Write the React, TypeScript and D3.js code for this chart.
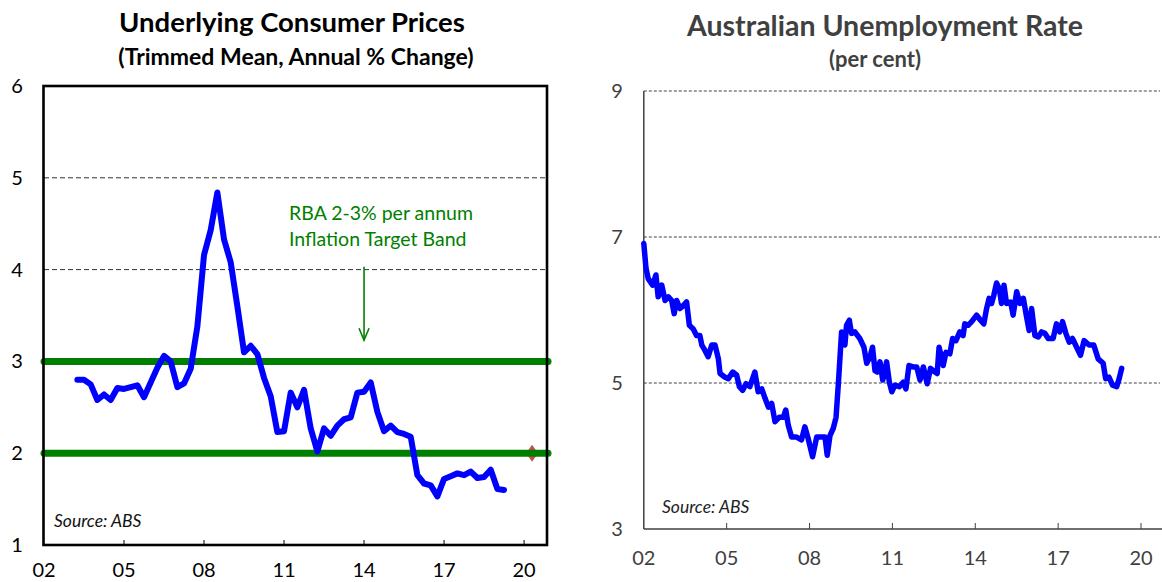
import React from "react";
import * as d3 from "d3";

// ---------- Data ----------
const cpiStart = 2003.25; // first quarter shown (quarterly series)
const cpiValues = [
  2.8, 2.8, 2.75, 2.58, 2.64, 2.58, 2.71, 2.7, 2.72, 2.74, 2.61, 2.77, 2.93,
  3.06, 3.0, 2.72, 2.76, 2.92, 3.38, 4.16, 4.43, 4.84, 4.33, 4.08, 3.6, 3.1,
  3.17, 3.08, 2.82, 2.62, 2.23, 2.24, 2.66, 2.5, 2.69, 2.27, 2.02, 2.27, 2.19,
  2.3, 2.37, 2.39, 2.66, 2.67, 2.77, 2.45, 2.24, 2.3, 2.23, 2.21, 2.18, 1.76,
  1.67, 1.65, 1.53, 1.72, 1.75, 1.78, 1.76, 1.8, 1.73, 1.74, 1.82, 1.61, 1.6,
];
const cpiDates = cpiValues.map((_, i) => cpiStart + i / 4);

const targetBand = [2, 3];
const forecastPoint = { date: 2020.3, value: 2.0 };

const unempDates = [
  2002.0, 2002.08, 2002.16, 2002.32, 2002.44, 2002.52, 2002.65, 2002.77, 2002.89,
  2003.01, 2003.1, 2003.19, 2003.31, 2003.43, 2003.55, 2003.65, 2003.79, 2003.91,
  2004.03, 2004.1, 2004.21, 2004.33, 2004.46, 2004.58, 2004.7, 2004.76, 2004.94,
  2005.06, 2005.22, 2005.36, 2005.46, 2005.58, 2005.7, 2005.84, 2006.02, 2006.14,
  2006.27, 2006.39, 2006.51, 2006.63, 2006.75, 2006.9, 2007.05, 2007.14, 2007.23,
  2007.35, 2007.53, 2007.71, 2007.83, 2007.95, 2008.11, 2008.26, 2008.44, 2008.56,
  2008.64, 2008.74, 2008.86, 2008.96, 2009.04, 2009.16, 2009.28, 2009.34, 2009.44,
  2009.52, 2009.64, 2009.82, 2009.97, 2010.07, 2010.19, 2010.28, 2010.37, 2010.45,
  2010.55, 2010.65, 2010.79, 2010.89, 2010.98, 2011.09, 2011.25, 2011.39, 2011.49,
  2011.6, 2011.75, 2011.88, 2012.0, 2012.12, 2012.26, 2012.38, 2012.54, 2012.62,
  2012.69, 2012.84, 2012.94, 2013.08, 2013.18, 2013.3, 2013.44, 2013.56, 2013.62,
  2013.74, 2013.87, 2014.05, 2014.19, 2014.31, 2014.41, 2014.5, 2014.59, 2014.67,
  2014.77, 2014.87, 2014.95, 2015.04, 2015.13, 2015.28, 2015.37, 2015.5, 2015.62,
  2015.74, 2015.86, 2015.95, 2016.04, 2016.16, 2016.28, 2016.4, 2016.52, 2016.64,
  2016.82, 2016.94, 2017.06, 2017.16, 2017.28, 2017.4, 2017.52, 2017.67, 2017.81,
  2017.94, 2018.12, 2018.29, 2018.45, 2018.63, 2018.72, 2018.84, 2018.97, 2019.12,
  2019.21, 2019.3,
];
const unempValues = [
  6.91, 6.57, 6.43, 6.34, 6.48, 6.18, 6.34, 6.13, 6.18,
  6.13, 5.95, 6.13, 6.02, 6.06, 6.11, 5.79, 5.74, 5.65,
  5.65, 5.52, 5.45, 5.36, 5.52, 5.52, 5.33, 5.13, 5.08,
  5.06, 5.15, 5.11, 4.95, 4.9, 4.99, 4.95, 5.15, 4.88,
  4.92, 4.79, 4.67, 4.72, 4.47, 4.53, 4.53, 4.63, 4.42,
  4.26, 4.26, 4.22, 4.4, 4.24, 3.99, 4.26, 4.26, 4.26,
  4.01, 4.28, 4.38, 4.53, 4.97, 5.7, 5.52, 5.79, 5.86,
  5.68, 5.7, 5.61, 5.49, 5.27, 5.36, 5.49, 5.17, 5.15,
  5.29, 5.04, 5.29, 5.01, 4.88, 4.97, 4.95, 5.01, 4.92,
  5.24, 5.22, 5.22, 5.04, 5.22, 4.99, 5.2, 5.15, 5.13,
  5.49, 5.24, 5.42, 5.4, 5.61, 5.58, 5.7, 5.65, 5.81,
  5.79, 5.84, 5.93, 5.86, 5.81, 6.02, 6.16, 6.09, 6.2,
  6.37, 6.29, 6.09, 6.34, 6.09, 6.11, 5.93, 6.25, 6.09,
  6.16, 5.9, 5.72, 6.02, 5.65, 5.63, 5.7, 5.68, 5.61,
  5.61, 5.81, 5.7, 5.84, 5.68, 5.56, 5.61, 5.49, 5.38,
  5.58, 5.52, 5.52, 5.33, 5.27, 5.06, 5.08, 4.97, 4.95,
  5.06, 5.2,
];

const xTickYears = [2002, 2005, 2008, 2011, 2014, 2017, 2020];
const leftYTicks = [1, 2, 3, 4, 5, 6];
const leftGridTicks = [4, 5];
const rightYTicks = [3, 5, 7, 9];
const rightGridTicks = [5, 7, 9];

const leftTitle = "Underlying Consumer Prices";
const leftSubtitle = "(Trimmed Mean, Annual % Change)";
const rightTitle = "Australian Unemployment Rate";
const rightSubtitle = "(per cent)";
const bandNote = ["RBA 2-3% per annum", "Inflation Target Band"];
const sourceText = "Source: ABS";

const FONT = "Lato, 'Open Sans', sans-serif";
const fmtYear = (y: number) => String(y % 100).padStart(2, "0");

export default function App() {
  // Left chart scales
  const xL = d3.scaleLinear().domain([2002, 2020.86]).range([44, 547]);
  const yL = d3.scaleLinear().domain([1, 6]).range([545, 86]);
  // Right chart scales
  const xR = d3.scaleLinear().domain([2002, 2020]).range([643.8, 1141]);
  const yR = d3.scaleLinear().domain([3, 9]).range([529, 91]);

  const cpiLine = d3
    .line<number>()
    .x((_, i) => xL(cpiDates[i]))
    .y((d) => yL(d))(cpiValues) as string;

  const unempLine = d3
    .line<number>()
    .x((_, i) => xR(unempDates[i]))
    .y((d) => yR(d))(unempValues) as string;

  const [lx0, lx1] = xL.range();
  const [ly0, ly1] = [yL(6), yL(1)];
  const green = "#008000";
  const arrowX = xL(2014);
  const arrowTop = yL(4.03);
  const arrowTip = yL(3.23);
  const fx = xL(forecastPoint.date);
  const fy = yL(forecastPoint.value);
  const dmx = 6;
  const dmy = 8.5;

  const rGray = "#404040";
  const rRight = 1162;

  return (
    <svg
      width={1162}
      height={582}
      style={{ position: "absolute", left: 0, top: 0, background: "#fff" }}
      fontFamily={FONT}
    >
      {/* ================= LEFT CHART ================= */}
      <text x={292} y={32} textAnchor="middle" fontSize={27.5} fontWeight={700} fill="#000">
        {leftTitle}
      </text>
      <text x={296} y={65} textAnchor="middle" fontSize={23} fontWeight={700} fill="#000">
        {leftSubtitle}
      </text>

      {leftGridTicks.map((t) => (
        <line key={t} x1={lx0} x2={lx1} y1={yL(t)} y2={yL(t)} stroke="#333" strokeWidth={1} strokeDasharray="5,3" />
      ))}

      {/* forecast diamond */}
      <path d={`M${fx},${fy - dmy}L${fx + dmx},${fy}L${fx},${fy + dmy}L${fx - dmx},${fy}Z`} fill="#c0504d" />

      {targetBand.map((t) => (
        <line key={t} x1={lx0} x2={lx1 + 1} y1={yL(t)} y2={yL(t)} stroke={green} strokeWidth={7} strokeLinecap="round" />
      ))}

      <path d={cpiLine} fill="none" stroke="#0000ff" strokeWidth={6} strokeLinejoin="round" strokeLinecap="round" />

      {/* annotation */}
      <text x={289} y={220} fontSize={19.5} fill={green}>{bandNote[0]}</text>
      <text x={289} y={246} fontSize={19.5} fill={green}>{bandNote[1]}</text>
      <line x1={arrowX} x2={arrowX} y1={arrowTop} y2={arrowTip} stroke={green} strokeWidth={1.6} />
      <path
        d={`M${arrowX - 5},${arrowTip - 12}L${arrowX},${arrowTip}L${arrowX + 5},${arrowTip - 12}`}
        fill="none"
        stroke={green}
        strokeWidth={1.6}
      />

      {/* x ticks */}
      {xTickYears.slice(1).map((yv) => (
        <line key={yv} x1={xL(yv)} x2={xL(yv)} y1={ly1} y2={ly1 - 5} stroke="#000" strokeWidth={1} />
      ))}

      {/* frame */}
      <rect x={lx0 - 0.5} y={ly0} width={lx1 - lx0 + 0.5} height={ly1 - ly0} fill="none" stroke="#000" strokeWidth={2.6} />

      <text x={54} y={527} fontSize={17.5} fontStyle="italic" fill="#111">{sourceText}</text>

      {leftYTicks.map((t) => (
        <text key={t} x={17} y={yL(t)} dy="0.35em" textAnchor="middle" fontSize={20} fill="#000">
          {t}
        </text>
      ))}
      {xTickYears.map((yv) => (
        <text key={yv} x={xL(yv)} y={577} textAnchor="middle" fontSize={20} fill="#000">
          {fmtYear(yv)}
        </text>
      ))}

      {/* ================= RIGHT CHART ================= */}
      <text x={885} y={36} textAnchor="middle" fontSize={28.5} fontWeight={700} fill={rGray}>
        {rightTitle}
      </text>
      <text x={875} y={67} textAnchor="middle" fontSize={22} fontWeight={700} fill={rGray}>
        {rightSubtitle}
      </text>

      {rightGridTicks.map((t) => (
        <line key={t} x1={xR(2002)} x2={1160} y1={yR(t)} y2={yR(t)} stroke={rGray} strokeWidth={1} strokeDasharray="3,2" />
      ))}

      <line x1={xR(2002)} x2={xR(2002)} y1={yR(9)} y2={yR(3)} stroke={rGray} strokeWidth={1.5} />
      <line x1={xR(2002)} x2={rRight} y1={yR(3)} y2={yR(3)} stroke={rGray} strokeWidth={1.5} />
      {xTickYears.slice(1).map((yv) => (
        <line key={yv} x1={xR(yv)} x2={xR(yv)} y1={yR(3)} y2={yR(3) - 6} stroke={rGray} strokeWidth={1} />
      ))}

      <path d={unempLine} fill="none" stroke="#0000ff" strokeWidth={5.5} strokeLinejoin="round" strokeLinecap="round" />

      <text x={662} y={513} fontSize={17.5} fontStyle="italic" fill="#222">{sourceText}</text>

      {rightYTicks.map((t) => (
        <text key={t} x={617} y={yR(t)} dy="0.35em" textAnchor="middle" fontSize={20} fill={rGray}>
          {t}
        </text>
      ))}
      {xTickYears.map((yv) => (
        <text key={yv} x={xR(yv)} y={565} textAnchor="middle" fontSize={20} fill={rGray}>
          {fmtYear(yv)}
        </text>
      ))}
    </svg>
  );
}
